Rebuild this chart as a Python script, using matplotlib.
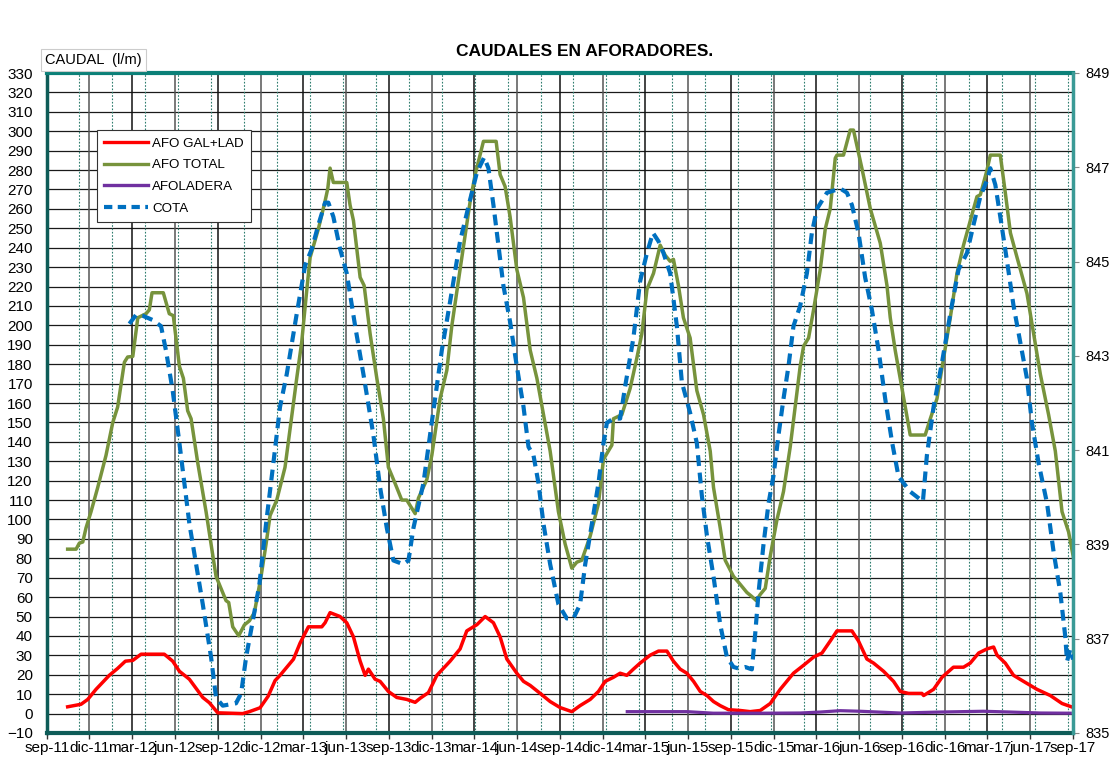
import matplotlib
matplotlib.use("Agg")
import matplotlib.pyplot as plt
from matplotlib.lines import Line2D
import numpy as np

plt.rcParams['font.family'] = ['Liberation Sans', 'DejaVu Sans']

# x values: months elapsed since 1 Sep 2011
tick_labels = ["sep-11", "dic-11", "mar-12", "jun-12", "sep-12", "dic-12", "mar-13", "jun-13",
               "sep-13", "dic-13", "mar-14", "jun-14", "sep-14", "dic-14", "mar-15", "jun-15",
               "sep-15", "dic-15", "mar-16", "jun-16", "sep-16", "dic-16", "mar-17", "jun-17",
               "sep-17"]

total_x = [1.47, 2.06, 2.29, 2.53, 2.76, 3.11, 3.58, 4.16, 4.63, 4.98, 5.45, 5.68, 6.04, 6.39, 6.97,
           7.20, 7.39, 8.18, 8.60, 8.88, 9.31, 9.59, 9.89, 10.13, 10.60, 11.18, 11.88, 12.58, 12.77,
           13.05, 13.47, 13.87, 14.22, 14.57, 15.04, 15.39, 15.67, 16.14, 16.72, 17.54, 17.89, 18.25,
           18.48, 19.06, 19.53, 19.72, 19.88, 20.11, 21.05, 21.28, 21.52, 21.99, 22.27, 22.69, 23.16,
           23.62, 23.97, 24.44, 24.91, 25.26, 25.85, 26.08, 26.67, 27.02, 27.60, 28.07, 28.42, 29.00,
           29.71, 30.06, 30.64, 31.53, 31.81, 32.16, 32.51, 32.98, 33.45, 33.92, 34.39, 34.85, 35.32,
           35.90, 36.37, 36.84, 37.19, 37.54, 38.13, 38.71, 39.06, 39.65, 39.76, 40.35, 40.93, 41.40,
           41.75, 42.11, 42.57, 43.04, 43.39, 43.74, 43.97, 44.32, 44.67, 45.14, 45.61, 46.08, 46.55,
           46.78, 47.25, 47.60, 48.18, 48.65, 49.12, 49.47, 49.78, 50.06, 50.41, 50.76, 51.23, 51.69,
           52.16, 52.51, 52.86, 53.10, 53.45, 53.80, 54.27, 54.62, 54.97, 55.32, 55.44, 55.90, 56.14,
           56.37, 56.60, 57.19, 57.78, 58.48, 58.95, 59.18, 59.53, 59.88, 60.23, 60.58, 61.63, 61.99,
           62.46, 62.92, 63.39, 63.86, 64.32, 64.79, 65.26, 65.50, 65.96, 66.20, 66.90, 67.25, 67.61,
           68.07, 68.77, 69.24, 69.71, 70.29, 70.76, 71.23, 71.69, 72.04]
total_y = [84.7, 84.7, 87.8, 88.4, 95.7, 104, 116.5, 133, 149.8, 158, 181, 183.7, 184, 203.9, 206,
           208, 216.8, 216.8, 206, 205, 178.9, 172.7, 156, 151.9, 129, 104, 70.7, 58.2, 57.2,
           44.7, 40.1, 45.7, 47.8, 52, 70.7, 87.4, 102, 110, 126.9, 172.7, 191.4, 218.5,
           235, 249.7, 264, 270.5, 281, 273.6, 273.6, 262, 254, 224.7, 220.5, 195.6, 172.7,
           151.9, 126.9, 118.6, 110, 110, 103, 111, 120.6, 133.1, 162.3, 176.8, 199.7, 228.8,
           264, 277.7, 294.8, 294.8, 277.7, 271.5, 255.9, 228.8, 214.3, 187.2, 172.7, 154, 135.2,
           104, 87.4, 74.9, 78, 79, 91.5, 108.2, 131, 138.3, 151.9, 154, 167.5, 183.1,
           195.6, 218.5, 226.8, 241.3, 236.1, 233, 234, 220.5, 203.9, 193.5, 166.4, 154, 135.2,
           116.5, 95.7, 79, 70.7, 66.6, 62.4, 60.3, 58.2, 61.4, 64.5, 81.1, 99.8, 114.4,
           137.3, 158.1, 178.9, 189.3, 193.5, 208, 228.8, 249.7, 260.1, 286.1, 287.7, 287.7, 294.4,
           300.6, 300.6, 280.9, 260.1, 242.3, 220.5, 203.9, 187, 172.7, 158.1, 143.5, 143.5, 151.9,
           162.3, 183.1, 203.9, 226.8, 241.3, 253.8, 266.3, 267.3, 279.8, 287.7, 287.7, 268.4, 247.6,
           235.1, 216.4, 195.6, 174.8, 153.9, 135.2, 104, 93.6, 80]

gal_x = [1.47, 2.41, 2.88, 3.46, 4.39, 4.98, 5.52, 6.04, 6.62, 8.25, 8.84, 9.31, 10.01, 10.95, 11.41,
         12.00, 13.75, 14.22, 14.97, 15.54, 16.02, 16.37, 17.31, 17.78, 18.36, 19.30, 19.53, 19.88,
         20.58, 21.05, 21.52, 21.99, 22.34, 22.57, 23.04, 23.39, 23.97, 24.56, 25.26, 25.85, 26.20,
         26.78, 27.37, 28.30, 29.00, 29.47, 30.18, 30.76, 31.34, 31.81, 32.28, 32.98, 33.45, 33.92,
         34.62, 35.32, 36.02, 36.84, 37.42, 38.13, 38.71, 39.18, 39.76, 40.23, 40.70, 41.16, 41.63,
         42.34, 42.92, 43.51, 43.97, 44.44, 44.91, 45.38, 45.85, 46.32, 46.78, 47.25, 47.83, 48.65,
         49.35, 50.06, 50.76, 51.46, 52.39, 53.10, 53.80, 54.39, 54.97, 55.44, 56.49, 56.95, 57.54,
         58.01, 58.71, 59.41, 59.88, 60.46, 61.40, 61.52, 62.22, 62.81, 63.61, 64.32, 64.79, 65.38,
         65.96, 66.43, 66.67, 67.25, 67.83, 68.53, 69.47, 70.41, 71.23, 72.04]
gal_y = [3.5, 4.8, 7.3, 12.5, 19.7, 23.3, 27, 27.4, 30.6, 30.6, 27, 21.8, 17.7, 8.3, 5.6,
         0.4, 0, 1, 3, 9, 17, 19.7, 28, 36.4, 44.7, 44.7, 46.8, 52,
         50, 46.8, 39.5, 27, 19.7, 22.9, 17.7, 16.6, 11.4, 8.3, 7.3, 5.8, 7.9,
         10.8, 19.7, 27, 33.3, 42.6, 45.8, 50, 46.8, 39.5, 28.1, 20.8, 16.6, 14.5,
         10.4, 6.2, 3.1, 1, 4.1, 7.3, 11.4, 16.6, 18.7, 20.8, 19.7, 22.9, 26,
         30.1, 32.2, 32.2, 27, 22.9, 20.8, 16.6, 11.4, 9.3, 6.2, 4.1, 2, 1.6,
         1, 1.6, 5.2, 12.5, 20.8, 24.9, 29.1, 31.2, 37.4, 42.6, 42.6, 37.4, 28.1,
         26, 21.8, 16.6, 11.4, 10.4, 10.4, 9.3, 12.5, 18.7, 23.9, 23.9, 26, 31.2,
         33.3, 34.3, 30.1, 26, 19.7, 16.6, 12.5, 9.3, 5.2, 3.1]

ladera_x = [40.73, 42.34, 44.93, 46.76, 50.06, 52.86, 54.27, 55.67, 57.07, 59.88, 62.69, 65.71,
            67.61, 69.71, 71.81]
ladera_y = [1.0, 1.0, 1.0, 0.2, 0.2, 0.3, 0.8, 1.5, 1.2, 0.3, 0.8, 1.2, 0.8, 0.3, 0.2]

cota_x = [5.80, 6.27, 6.74, 7.44, 8.02, 8.37, 8.84, 9.31, 9.66, 10.01, 10.48, 10.95, 11.53, 11.88,
          12.35, 13.28, 13.64, 13.99, 14.46, 14.92, 15.39, 15.90, 16.37, 16.84, 17.54, 18.13, 18.60,
          19.06, 19.53, 19.76, 20.11, 20.58, 21.05, 21.64, 22.22, 22.92, 23.39, 23.86, 24.32, 25.02,
          25.38, 25.73, 26.43, 27.13, 27.72, 28.30, 29.00, 29.71, 30.18, 30.69, 30.99, 31.34, 31.69,
          32.04, 32.51, 32.98, 33.45, 33.80, 34.15, 34.50, 34.85, 35.32, 35.90, 36.49, 36.95, 37.42,
          37.78, 38.25, 38.71, 39.06, 39.30, 39.76, 40.23, 40.58, 41.16, 41.63, 42.11, 42.53, 42.92,
          43.27, 43.74, 44.21, 44.56, 45.14, 45.61, 45.96, 46.32, 46.78, 47.25, 47.72, 48.18, 48.53,
          49.00, 49.47, 49.71, 49.94, 50.29, 50.64, 50.99, 51.34, 51.69, 52.04, 52.39, 52.86, 53.33,
          53.68, 54.04, 54.74, 55.67, 56.14, 56.49, 56.95, 57.42, 57.89, 58.36, 58.83, 59.30, 59.76,
          60.58, 61.47, 61.75, 62.22, 62.81, 63.39, 63.97, 64.56, 65.02, 65.50, 65.96, 66.20, 66.55,
          66.90, 67.37, 67.83, 68.30, 68.77, 69.12, 69.59, 70.18, 70.64, 71.11, 71.46, 71.58, 71.81,
          72.00]
cota_y = [843.68, 843.87, 843.85, 843.76, 843.63, 843.11, 842.26, 841.15, 840.30, 839.44, 838.58,
          837.73, 836.61, 835.75, 835.58, 835.63, 835.84, 836.61, 837.38, 838.15, 839.44, 840.72,
          841.92, 842.61, 843.89, 844.92, 845.27, 845.78, 846.25, 846.25, 845.95, 845.27, 844.75,
          843.63, 842.61, 841.32, 840.21, 839.35, 838.66, 838.58, 838.66, 839.35, 840.30, 841.84,
          843.12, 844.15, 845.43, 846.32, 846.89, 847.21, 846.98, 846.20, 845.35, 844.49, 843.72,
          842.78, 841.92, 841.07, 840.89, 840.30, 839.44, 838.58, 837.73, 837.43, 837.43, 837.73,
          838.58, 839.44, 840.30, 841.15, 841.58, 841.67, 841.67, 842.35, 843.38, 844.58, 845.18,
          845.61, 845.43, 845.18, 844.75, 843.63, 842.44, 841.79, 841.15, 840.04, 839.18, 838.32,
          837.30, 836.61, 836.40, 836.37, 836.40, 836.35, 837.12, 837.98, 839.01, 839.87, 840.46,
          841.32, 842.09, 842.78, 843.63, 844.06, 844.75, 845.61, 846.12, 846.46, 846.55, 846.46,
          846.20, 845.61, 844.66, 843.98, 843.12, 842.08, 841.18, 840.44, 840.12, 839.91, 840.89,
          841.92, 842.86, 843.89, 844.83, 845.18, 845.78, 846.38, 846.72, 846.98, 846.63, 845.95,
          845.01, 844.06, 843.29, 842.52, 841.58, 840.72, 839.87, 838.84, 837.98, 837.04, 836.52,
          836.78, 836.56]

W, H = 1109, 758
fig = plt.figure(figsize=(W / 100, H / 100), dpi=100, facecolor='white')
L, R, T, B = 46.7, 1073.0, 73.0, 733.0
ax = fig.add_axes([L / W, 1 - B / H, (R - L) / W, (B - T) / H])
ax.set_xlim(0, 72)
ax.set_ylim(-10, 330)

# grid
for v in range(-10, 331, 10):
    ax.axhline(v, color='#1a1a1a', lw=0.9, zorder=0.5)
for i in range(len(tick_labels)):
    ax.axvline(i * 3, color='#555555' if i % 2 else '#111111', lw=1.1, zorder=0.5)
for xm in np.arange(2.29, 72, 2.311):
    ax.axvline(xm, color='#2e7d6e', lw=0.8, ls=(0, (1.5, 1.5)), zorder=0.6)

red = '#FF0000'
green = '#77933C'
purple = '#7030A0'
blue = '#0070C0'

ax.plot(gal_x, gal_y, color=red, lw=2.5, zorder=3, solid_joinstyle='round')
ax.plot(total_x, total_y, color=green, lw=2.5, zorder=3, solid_joinstyle='round')
ax.plot(ladera_x, ladera_y, color=purple, lw=2.3, zorder=3)

ax2 = ax.twinx()
ax2.set_ylim(835, 849)
ax2.plot(cota_x, cota_y, color=blue, lw=3.0, ls=(0, (2.6, 1.6)), zorder=4)

ax.set_xticks(np.arange(0, 73, 3))
ax.set_xticklabels(tick_labels, fontsize=11)
ax.set_yticks(range(-10, 331, 10))
ax.tick_params(axis='y', labelsize=11, length=0, pad=10)
ax.tick_params(axis='x', length=4, width=1, pad=2, direction='out', colors='#333333',
               labelcolor='black')
ax2.set_yticks(range(835, 850, 2))
ax2.tick_params(axis='y', labelsize=10.5, length=4, pad=5, colors='#888888', labelcolor='black')

for a in (ax, ax2):
    for s in a.spines.values():
        s.set_visible(False)
ax.spines['top'].set_visible(True)
ax.spines['top'].set_color('#0b8078')
ax.spines['top'].set_linewidth(3)
ax.spines['left'].set_visible(True)
ax.spines['left'].set_color('#0e5c58')
ax.spines['left'].set_linewidth(2.5)
ax.spines['bottom'].set_visible(True)
ax.spines['bottom'].set_color('#0e5c58')
ax.spines['bottom'].set_linewidth(3)
ax2.spines['right'].set_visible(True)
ax2.spines['right'].set_color('#3a9a96')
ax2.spines['right'].set_linewidth(2.5)

fig.text(585 / W, 1 - 52 / H, 'CAUDALES EN AFORADORES.', ha='center', va='center',
         fontsize=12.5, fontweight='bold')
fig.text(45 / W, 1 - 60 / H, 'CAUDAL  (l/m)', ha='left', va='center', fontsize=10.5,
         bbox=dict(boxstyle='square,pad=0.3', fc='white', ec='#cccccc', lw=0.8))

handles = [Line2D([], [], color=red, lw=2.4),
           Line2D([], [], color=green, lw=2.4),
           Line2D([], [], color=purple, lw=2.4),
           Line2D([], [], color=blue, lw=3.0, ls=(0, (2.0, 1.3)))]
names = ['AFO GAL+LAD', 'AFO TOTAL', 'AFOLADERA', 'COTA']
leg = ax2.legend(handles, names, loc='upper left',
                 bbox_to_anchor=((97 - L) / (R - L), 1 - (130 - T) / (B - T)),
                 fontsize=9.6, frameon=True, fancybox=False, framealpha=1,
                 edgecolor='#333333', handlelength=3.3, handletextpad=0.3,
                 labelspacing=0.7, borderpad=0.55, borderaxespad=0)
leg.get_frame().set_linewidth(0.8)
leg.set_zorder(10)

fig.savefig('out.png', dpi=100, facecolor='white')
